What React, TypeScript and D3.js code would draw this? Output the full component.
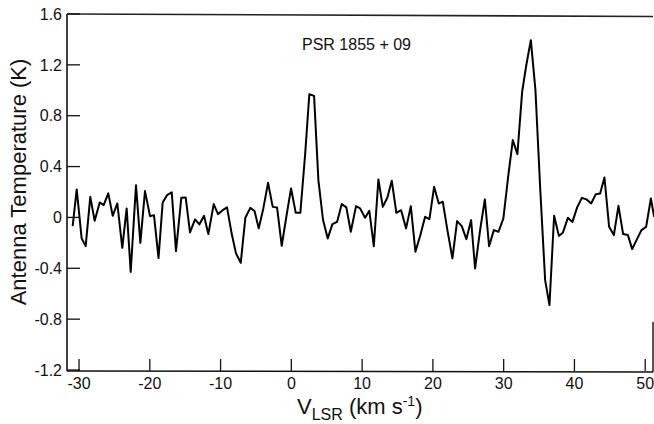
import React from "react";
import * as d3 from "d3";

const velocity = [
  -30.9, -30.33, -29.63, -29.06, -28.41, -27.79, -27.08, -26.52, -25.87, -25.24,
  -24.59, -23.89, -23.27, -22.7, -21.95, -21.34, -20.68, -19.97, -19.41, -18.77,
  -18.18, -17.57, -16.9, -16.3, -15.55, -14.93, -14.32, -13.61, -13.0, -12.34,
  -11.73, -10.97, -10.36, -9.7, -9.09, -8.42, -7.82, -7.15, -6.5, -5.8,
  -5.2, -4.61, -3.96, -3.29, -2.63, -2.02, -1.36, -0.71, -0.04, 0.62,
  1.27, 1.94, 2.54, 3.21, 3.82, 4.48, 5.14, 5.8, 6.46, 7.12,
  7.77, 8.4, 9.14, 9.71, 10.42, 11.02, 11.65, 12.3, 12.92, 13.57,
  14.19, 14.84, 15.51, 16.21, 16.88, 17.53, 18.23, 18.9, 19.51, 20.17,
  20.83, 21.4, 22.05, 22.76, 23.42, 24.08, 24.73, 25.4, 25.96, 26.67,
  27.34, 27.94, 28.61, 29.26, 29.96, 30.63, 31.29, 31.94, 32.61, 33.17,
  33.84, 34.49, 35.15, 35.86, 36.47, 37.13, 37.8, 38.36, 39.07, 39.72,
  40.38, 41.05, 41.7, 42.36, 43.02, 43.63, 44.24, 44.9, 45.57, 46.22,
  46.88, 47.55, 48.16, 48.82, 49.47, 50.13, 50.8, 51.26,
];

const temperature = [
  -0.068, 0.22, -0.165, -0.226, 0.162, -0.027, 0.118, 0.097, 0.189, 0.013,
  0.11, -0.239, 0.071, -0.428, 0.254, -0.2, 0.207, 0.01, 0.018, -0.32,
  0.118, 0.175, 0.197, -0.265, 0.154, 0.157, -0.118, -0.016, -0.055, 0.013,
  -0.131, 0.105, 0.026, 0.057, 0.079, -0.131, -0.283, -0.357, -0.003, 0.075,
  0.05, -0.086, 0.071, 0.272, 0.083, 0.079, -0.223, 0.005, 0.228, 0.036,
  0.036, 0.49, 0.969, 0.956, 0.293, -0.021, -0.165, -0.053, -0.035, 0.105,
  0.079, -0.113, 0.089, 0.071, -0.003, 0.052, -0.226, 0.299, 0.083, 0.157,
  0.288, 0.036, 0.057, -0.086, 0.089, -0.27, -0.139, 0.005, -0.013, 0.241,
  0.11, 0.123, -0.1, -0.322, -0.029, -0.068, -0.171, -0.021, -0.401, -0.1,
  0.142, -0.226, -0.1, -0.113, -0.008, 0.319, 0.608, 0.498, 0.987, 1.189,
  1.394, 1.001, 0.241, -0.493, -0.689, 0.013, -0.145, -0.121, -0.003, -0.035,
  0.079, 0.154, 0.142, 0.11, 0.183, 0.189, 0.314, -0.074, -0.139, 0.091,
  -0.131, -0.139, -0.249, -0.173, -0.1, -0.074, 0.149, 0.005,
];

const xTicks = [-30, -20, -10, 0, 10, 20, 30, 40, 50];
const yTicks = [-1.2, -0.8, -0.4, 0, 0.4, 0.8, 1.2, 1.6];
const xTickLabels = ["-30", "-20", "-10", "0", "10", "20", "30", "40", "50"];
const yTickLabels = ["-1.2", "-0.8", "-0.4", "0", "0.4", "0.8", "1.2", "1.6"];

const W = 654;
const H = 424;
const FONT = "'Liberation Sans', Arial, Helvetica, sans-serif";

export default function App() {
  const x = d3.scaleLinear().domain([-31.7, 51.1]).range([67, 653]);
  const y = d3.scaleLinear().domain([-1.2, 1.6]).range([370, 14]);

  const pts: [number, number][] = velocity.map((v, i) => [v, temperature[i]]);
  const line = d3
    .line<[number, number]>()
    .x((d) => x(d[0]))
    .y((d) => y(d[1]));

  const left = x(-31.7);
  const right = x(51.1);
  const top = y(1.6);
  const bottom = y(-1.2);

  return (
    <svg
      width={W}
      height={H}
      viewBox={`0 0 ${W} ${H}`}
      style={{ position: "absolute", left: 0, top: 0, display: "block", background: "#fff" }}
      fontFamily={FONT}
    >
      <rect x={0} y={0} width={W} height={H} fill="#fff" />
      {/* frame */}
      <line x1={left} y1={top} x2={left} y2={bottom + 1} stroke="#111" strokeWidth={1.6} />
      <line x1={left} y1={top} x2={right} y2={top + 2.5} stroke="#222" strokeWidth={1.6} />
      <line x1={left} y1={bottom + 1} x2={right} y2={bottom + 2} stroke="#111" strokeWidth={1.6} />
      <line x1={right} y1={322} x2={right} y2={bottom + 2} stroke="#111" strokeWidth={1.4} />

      {/* y ticks */}
      {yTicks.map((t, i) => (
        <g key={"y" + i}>
          <line x1={left} x2={left + 13} y1={y(t)} y2={y(t)} stroke="#111" strokeWidth={1.3} />
          <text x={62} y={y(t)} dy="0.36em" textAnchor="end" fontSize={16} fill="#111">
            {yTickLabels[i]}
          </text>
        </g>
      ))}

      {/* x ticks */}
      {xTicks.map((t, i) => (
        <g key={"x" + i}>
          <line x1={x(t)} x2={x(t)} y1={bottom + 1} y2={bottom - 11} stroke="#111" strokeWidth={1.3} />
          <text x={x(t)} y={389} textAnchor="middle" fontSize={16} fill="#111">
            {xTickLabels[i]}
          </text>
        </g>
      ))}

      {/* data line */}
      <path d={line(pts) || ""} fill="none" stroke="#000" strokeWidth={2} strokeLinejoin="round" />

      {/* title */}
      <text x={302} y={50} fontSize={16} fill="#111">
        PSR 1855 + 09
      </text>

      {/* y axis label */}
      <text
        transform={`translate(26, 182) rotate(-90)`}
        textAnchor="middle"
        fontSize={22}
        fill="#111"
      >
        Antenna Temperature (K)
      </text>

      {/* x axis label */}
      <text x={297} y={414} fontSize={22} fill="#111">
        <tspan>V</tspan>
        <tspan fontSize={16} dy={6}>LSR</tspan>
        <tspan dy={-6}> (km s</tspan>
        <tspan fontSize={14} dy={-8}>-1</tspan>
        <tspan dy={8}>)</tspan>
      </text>
    </svg>
  );
}
